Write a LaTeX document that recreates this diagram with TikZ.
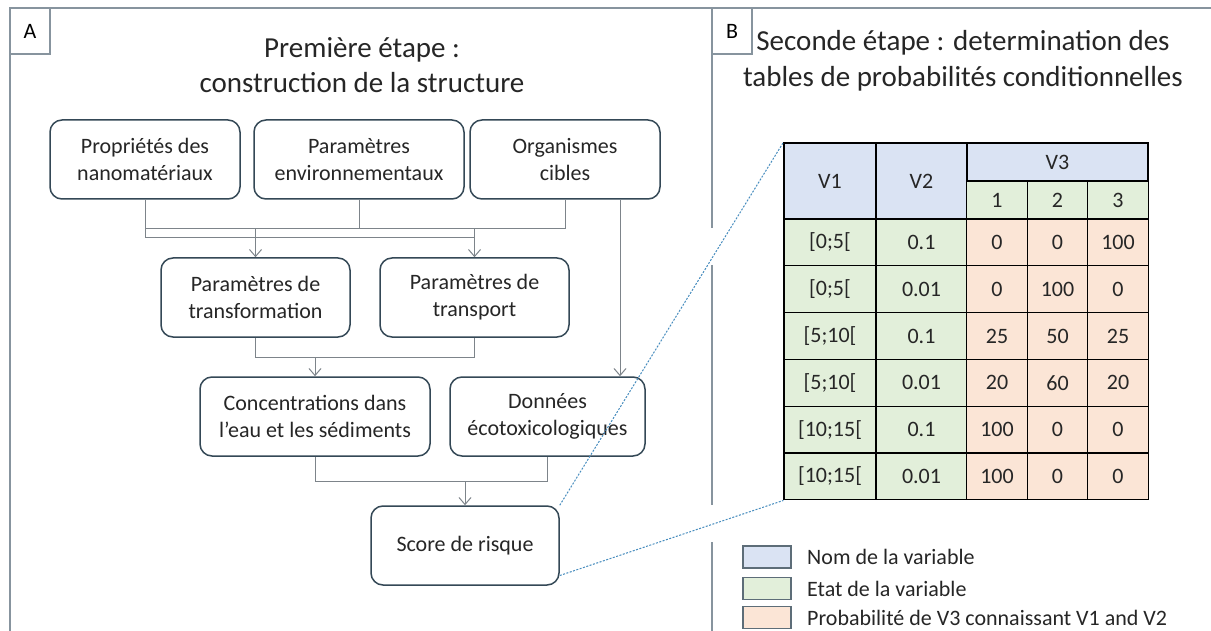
\documentclass[tikz,border=0pt]{standalone}
\usepackage{fontspec}
\setmainfont{Carlito}
\usetikzlibrary{arrows.meta}

\definecolor{boxline}{RGB}{52,72,86}
\definecolor{conline}{RGB}{125,132,138}
\definecolor{frameline}{RGB}{135,148,158}
\definecolor{dashline}{RGB}{70,140,190}
\definecolor{txt}{RGB}{38,38,38}
\definecolor{namefill}{RGB}{218,227,243}
\definecolor{statefill}{RGB}{226,239,218}
\definecolor{probfill}{RGB}{251,229,214}

\tikzset{
  box/.style={draw=boxline,line width=1.5pt,rounded corners=12pt,align=center,
    text=txt,inner sep=0pt,font=\fontsize{22}{27}\selectfont},
  conn/.style={draw=conline,line width=1pt},
  arr/.style={conn,-{Straight Barb[length=7pt,width=12pt]}},
  frame/.style={draw=frameline,line width=1.5pt},
  lab/.style={draw=frameline,line width=1.2pt,minimum width=40pt,minimum height=46pt,
    inner sep=0pt,text=black,font=\fontsize{22}{26}\selectfont},
  title/.style={align=center,text=txt,inner sep=0pt},
  zoomline/.style={draw=dashline,line width=1pt,dash pattern=on 2pt off 1.5pt},
  cell/.style={draw=black,line width=1.3pt,minimum height=46.8pt,inner sep=0pt,
    text=txt,font=\fontsize{22}{26}\selectfont},
  wide/.style={minimum width=92pt},
  narrow/.style={minimum width=60.5pt},
  namecell/.style={cell,fill=namefill},
  statecell/.style={cell,fill=statefill},
  probcell/.style={cell,fill=probfill},
  key/.style={draw=boxline!80,line width=1.2pt,minimum width=48pt,minimum height=22pt,inner sep=0pt},
  keytext/.style={anchor=west,inner sep=0pt,text=txt,font=\fontsize{22}{26}\selectfont}
}

\begin{document}
\begin{tikzpicture}[x=1pt,y=-1pt]
\useasboundingbox (0,0) rectangle (1211,631);
\fill[white] (0,0) rectangle (1211,631);

% frame of the two panels
\draw[frame] (10,631) -- (10,8) -- (1211,8);
\draw[frame] (712,8) -- (712,228);
\draw[frame] (712,265) -- (712,505);
\draw[frame] (712,542) -- (712,631);
\node[lab](la) at (30,31){A};
\node[lab](lb) at (732,31){B};

% panel A
\node[title,font=\fontsize{29}{35}\selectfont](ta) at (362,65){Première étape :\\construction de la structure};
\node[box,minimum width=190pt,minimum height=79pt](n1) at (145,159.5){Propriétés des\\nanomatériaux};
\node[box,minimum width=210pt,minimum height=79pt](n2) at (359,159.5){Paramètres\\environnementaux};
\node[box,minimum width=190pt,minimum height=79pt](n3) at (565,159.5){Organismes\\cibles};
\node[box,minimum width=189pt,minimum height=79pt](n4) at (255.5,297.5){Paramètres de\\transformation};
\node[box,minimum width=189pt,minimum height=79pt](n5) at (474.5,297.5){Paramètres de\\transport};
\node[box,minimum width=230pt,minimum height=79pt](n6) at (315,416.5){Concentrations dans\\l’eau et les sédiments};
\node[box,minimum width=195pt,minimum height=79pt](n7) at (547.5,416.5){Données\\écotoxicologiques};
\node[box,minimum width=188pt,minimum height=79pt](n8) at (465,545.5){Score de risque};

\path[conn](n1.south)--(n1.south |- 0,238)--(n5.north |- 0,238);
\path[conn](n1.south |- 0,229)--(n3.south |- 0,229)--(n3.south);
\path[conn](n2.south)--(n2.south |- 0,229);
\path[arr](n4.north |- 0,229)--(n4.north);
\path[arr](n5.north |- 0,229)--(n5.north);
\path[conn](n4.south)--(n4.south |- 0,357)--(n5.south |- 0,357)--(n5.south);
\path[arr](n6.north |- 0,357)--(n6.north);
\coordinate(c1) at ([xshift=55pt]n3.south);
\path[arr](c1)--(c1 |- n7.north);
\path[conn](n6.south)--(n6.south |- 0,481)--(n7.south |- 0,481)--(n7.south);
\path[arr](n8.north |- 0,481)--(n8.north);

% panel B
\node[title,font=\fontsize{29}{36}\selectfont](tb) at (963,61){Seconde étape : determination des\\tables de probabilités conditionnelles};

\node[namecell,wide,minimum height=76pt](v1) at (830,181){V1};
\node[namecell,minimum width=91pt,minimum height=76pt](v2) at (921.5,181){V2};
\node[namecell,minimum width=181pt,minimum height=38pt](v3) at (1057.5,162){V3};
\node[statecell,narrow,minimum height=38pt](s1) at (997,200){1};
\node[statecell,narrow,minimum height=38pt](s2) at (1057.5,200){2};
\node[statecell,narrow,minimum height=38pt](s3) at (1118,200){3};

\node[statecell,wide](r1a) at (830,242.4){[0;5[};
\node[statecell,minimum width=91pt](r1b) at (921.5,242.4){0.1};
\node[probcell,narrow](r1c) at (997,242.4){0};
\node[probcell,narrow](r1d) at (1057.5,242.4){0};
\node[probcell,narrow](r1e) at (1118,242.4){100};

\node[statecell,wide](r2a) at (830,289.2){[0;5[};
\node[statecell,minimum width=91pt](r2b) at (921.5,289.2){0.01};
\node[probcell,narrow](r2c) at (997,289.2){0};
\node[probcell,narrow](r2d) at (1057.5,289.2){100};
\node[probcell,narrow](r2e) at (1118,289.2){0};

\node[statecell,wide](r3a) at (830,336){[5;10[};
\node[statecell,minimum width=91pt](r3b) at (921.5,336){0.1};
\node[probcell,narrow](r3c) at (997,336){25};
\node[probcell,narrow](r3d) at (1057.5,336){50};
\node[probcell,narrow](r3e) at (1118,336){25};

\node[statecell,wide](r4a) at (830,382.8){[5;10[};
\node[statecell,minimum width=91pt](r4b) at (921.5,382.8){0.01};
\node[probcell,narrow](r4c) at (997,382.8){20};
\node[probcell,narrow](r4d) at (1057.5,382.8){60};
\node[probcell,narrow](r4e) at (1118,382.8){20};

\node[statecell,wide](r5a) at (830,429.6){[10;15[};
\node[statecell,minimum width=91pt](r5b) at (921.5,429.6){0.1};
\node[probcell,narrow](r5c) at (997,429.6){100};
\node[probcell,narrow](r5d) at (1057.5,429.6){0};
\node[probcell,narrow](r5e) at (1118,429.6){0};

\node[statecell,wide](r6a) at (830,476.4){[10;15[};
\node[statecell,minimum width=91pt](r6b) at (921.5,476.4){0.01};
\node[probcell,narrow](r6c) at (997,476.4){100};
\node[probcell,narrow](r6d) at (1057.5,476.4){0};
\node[probcell,narrow](r6e) at (1118,476.4){0};

% zoom from the node to the table
\coordinate(c2) at ([yshift=-30pt]n8.east);
\path[zoomline](n8.north east)--(v1.north west);
\path[zoomline](c2)--(r6a.south west);

% legend
\node[key,fill=namefill](k1) at (767,557){};
\node[key,fill=statefill](k2) at (767,588.5){};
\node[key,fill=probfill](k3) at (767,617.5){};
\node[keytext](t1) at (807,557){Nom de la variable};
\node[keytext](t2) at (807,588.5){Etat de la variable};
\node[keytext](t3) at (807,617.5){Probabilité de V3 connaissant V1 and V2};
\end{tikzpicture}
\end{document}
